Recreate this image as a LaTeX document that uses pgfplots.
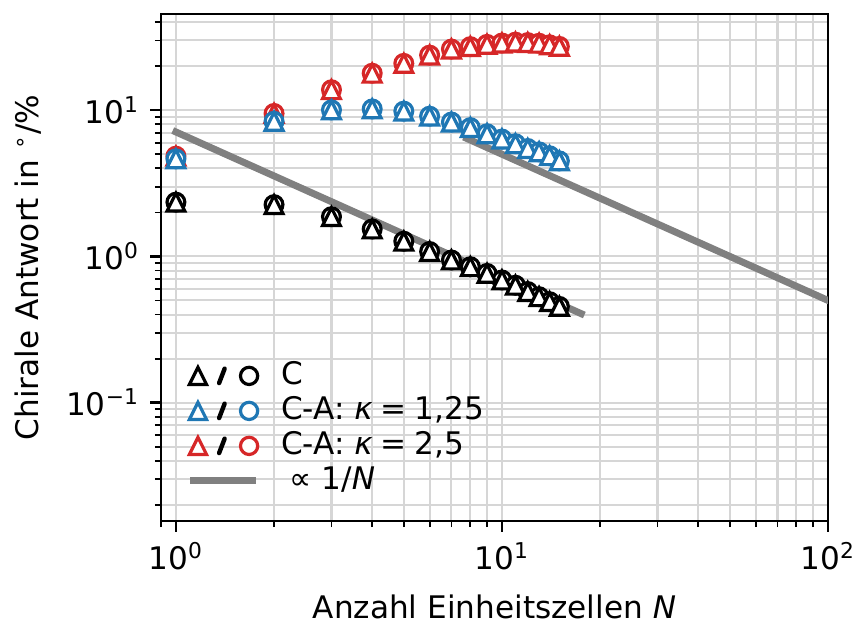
\documentclass[border=0pt]{standalone}
\usepackage{pgfplots}
\pgfplotsset{compat=1.18}
\usepackage{fontspec}
\setmainfont{DejaVu Sans}
\definecolor{tabblue}{HTML}{1F77B4}
\definecolor{tabred}{HTML}{D62728}
\definecolor{lgray}{HTML}{808080}
\definecolor{gridc}{HTML}{D6D6D6}
\pgfdeclareplotmark{mtri}{%
  \pgfpathmoveto{\pgfqpoint{0pt}{\pgfplotmarksize}}%
  \pgfpathlineto{\pgfqpoint{-\pgfplotmarksize}{-\pgfplotmarksize}}%
  \pgfpathlineto{\pgfqpoint{\pgfplotmarksize}{-\pgfplotmarksize}}%
  \pgfpathclose\pgfusepathqfillstroke}
\pgfdeclareplotmark{mcirc}{%
  \pgfpathcircle{\pgfpointorigin}{\pgfplotmarksize}%
  \pgfusepathqfillstroke}

\pgfplotstableread{
N   blk   blu   red
1   2.35  4.65  4.85
2   2.26  8.4   9.5
3   1.87  10.05 13.8
4   1.54  10.2  17.9
5   1.27  9.85  20.9
6   1.08  9.1   23.8
7   0.945 8.3   26.2
8   0.85  7.6   27.2
9   0.765 6.9   28.2
10  0.69  6.35  28.8
11  0.635 5.9   29.2
12  0.575 5.47  29.0
13  0.53  5.19  28.7
14  0.49  4.88  28.0
15  0.455 4.5   27.3
}\datatab

\begin{document}
\fontsize{11.2}{13.4}\selectfont
\begin{tikzpicture}[font=\fontsize{11.2}{13.4}\selectfont]
\begin{axis}[
  scale only axis, width=240.12pt, height=182.52pt,
  xmode=log, ymode=log,
  xmin=0.9, xmax=100, ymin=0.0155, ymax=45.5,
  xtick pos=bottom, ytick pos=left,
  xtick={1,10,100},
  xticklabels={10\textsuperscript{0},10\textsuperscript{1},10\textsuperscript{2}},
  ytick={0.1,1,10},
  yticklabels={10\textsuperscript{−1},10\textsuperscript{0},10\textsuperscript{1}},
  minor xtick={0.9,2,3,4,5,6,7,8,9,20,30,40,50,60,70,80,90},
  minor ytick={0.02,0.03,0.04,0.05,0.06,0.07,0.08,0.09,0.2,0.3,0.4,0.5,0.6,0.7,0.8,0.9,2,3,4,5,6,7,8,9,20,30,40},
  grid=both,
  major grid style={gridc, line width=0.75pt},
  minor grid style={gridc, line width=0.75pt},
  tick align=outside, major tick length=3.9pt, minor tick length=2.2pt,
  major tick style={black, line width=0.9pt},
  minor tick style={black, line width=0.65pt},
  axis line style={black, line width=0.9pt},
  tick label style={font=\fontsize{11.2}{13.4}\selectfont},
  xlabel={Anzahl Einheitszellen \textit{N}},
  ylabel={Chirale Antwort in \textsuperscript{∘}/\%},
  x label style={at={(axis description cs:0.5,-0.1696)}, anchor=center},
  y label style={at={(axis description cs:-0.1994,0.5)}, anchor=center},
  legend cell align=left,
  legend style={at={(axis description cs:0.039,0.3136)}, anchor=north west,
    draw=none, fill=none, inner sep=0pt, outer sep=0pt,
    nodes={inner sep=0pt, text height=8pt, text depth=2pt, anchor=west},
    row sep=2.6pt, font=\fontsize{11.2}{13.4}\selectfont},
  mark size=3.2pt,
]
% 1/N reference lines
\addplot[lgray, line width=2.5pt, line cap=rect, forget plot] coordinates {(1,7.1) (17.5,0.406)};
\addplot[lgray, line width=2.5pt, line cap=rect, forget plot] coordinates {(7.8,6.41) (100,0.5)};
% red
\addplot[only marks, mark=mcirc, mark options={draw=tabred, fill=white, line width=1.15pt}, forget plot] table[x=N, y=red] {\datatab};
\addplot[only marks, mark=mtri, mark options={draw=tabred, fill=white, line width=1.15pt, line join=miter}, forget plot] table[x=N, y=red] {\datatab};
% blue
\addplot[only marks, mark=mcirc, mark options={draw=tabblue, fill=white, line width=1.15pt}, forget plot] table[x=N, y=blu] {\datatab};
\addplot[only marks, mark=mtri, mark options={draw=tabblue, fill=white, line width=1.15pt, line join=miter}, forget plot] table[x=N, y=blu] {\datatab};
% black
\addplot[only marks, mark=mcirc, mark options={draw=black, fill=white, line width=1.15pt}, forget plot] table[x=N, y=blk] {\datatab};
\addplot[only marks, mark=mtri, mark options={draw=black, fill=white, line width=1.15pt, line join=miter}, forget plot] table[x=N, y=blk] {\datatab};

\addlegendimage{legend image code/.code={
  \draw[black, line width=1.15pt, line join=miter, fill=white] plot[only marks, mark=mtri, mark size=3.1pt] coordinates {(3.6pt,0pt)};
  \draw[black, line width=1.6pt, line cap=round] (11.2pt,-2.6pt) -- (13.2pt,2.6pt);
  \draw[black, line width=1.15pt, fill=white] plot[only marks, mark=mcirc, mark size=3.1pt] coordinates {(22pt,0pt)};
  \path[draw=none, fill=none] (0pt,0pt) rectangle (33.5pt,0.1pt);
}}
\addlegendentry{C}
\addlegendimage{legend image code/.code={
  \draw[tabblue, line width=1.15pt, line join=miter, fill=white] plot[only marks, mark=mtri, mark size=3.1pt] coordinates {(3.6pt,0pt)};
  \draw[black, line width=1.6pt, line cap=round] (11.2pt,-2.6pt) -- (13.2pt,2.6pt);
  \draw[tabblue, line width=1.15pt, fill=white] plot[only marks, mark=mcirc, mark size=3.1pt] coordinates {(22pt,0pt)};
  \path[draw=none, fill=none] (0pt,0pt) rectangle (33.5pt,0.1pt);
}}
\addlegendentry{C-A: \textit{κ}\hspace{0.26em}=\hspace{0.26em}1,25}
\addlegendimage{legend image code/.code={
  \draw[tabred, line width=1.15pt, line join=miter, fill=white] plot[only marks, mark=mtri, mark size=3.1pt] coordinates {(3.6pt,0pt)};
  \draw[black, line width=1.6pt, line cap=round] (11.2pt,-2.6pt) -- (13.2pt,2.6pt);
  \draw[tabred, line width=1.15pt, fill=white] plot[only marks, mark=mcirc, mark size=3.1pt] coordinates {(22pt,0pt)};
  \path[draw=none, fill=none] (0pt,0pt) rectangle (33.5pt,0.1pt);
}}
\addlegendentry{C-A: \textit{κ}\hspace{0.26em}=\hspace{0.26em}2,5}
\addlegendimage{legend image code/.code={
  \draw[lgray, line width=2.5pt] (0.9pt,0pt) -- (24.6pt,0pt);
  \path[draw=none, fill=none] (0pt,0pt) rectangle (33.5pt,0.1pt);
}}
\addlegendentry{\hspace{3pt}∝ 1/\textit{N}}
\end{axis}
\pgfresetboundingbox
\path ([xshift=-57.96pt,yshift=-37.8pt]current axis.south west) rectangle ([xshift=10.8pt,yshift=5.04pt]current axis.north east);
\end{tikzpicture}
\end{document}
